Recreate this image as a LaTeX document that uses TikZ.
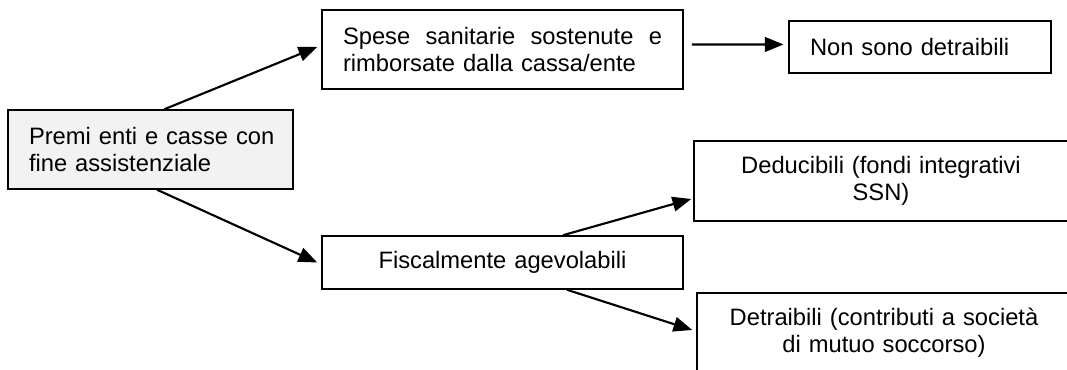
\documentclass[tikz,border=0pt]{standalone}
\usepackage{fontspec}
\setmainfont{Liberation Sans}
\usepackage{tikz}
\usetikzlibrary{positioning, shapes, arrows.meta, calc}

\tikzset{
  box/.style={rectangle, draw, line width=1.2pt, inner xsep=15.75pt, inner ysep=0pt,
              font=\fontsize{17.8pt}{20.5pt}\selectfont},
  arr/.style={-{Triangle[length=14pt,width=11pt]}, line width=1.6pt}
}

\begin{document}
\begin{tikzpicture}[x=0.75pt, y=-0.75pt]
                  \useasboundingbox (0,0) rectangle (1067,370);

                  % Nodes
                  \node[box, fill=black!5, minimum width=213.75pt, minimum height=59.25pt,
                        text width=182.25pt, align=left] (premi) at (150.5,149.5)
                        {\mbox{Premi enti e casse con}\\fine assistenziale};
                  \node[box, minimum width=270.75pt, minimum height=59.25pt,
                        text width=239.25pt, align=left] (spese) at (502.5,49.5)
                        {\hbox to \hsize{Spese\hfil sanitarie\hfil sostenute\hfil e}\\rimborsate dalla cassa/ente};
                  \node[box, minimum width=196.5pt, minimum height=39pt,
                        text width=165pt, align=left] (nonsono) at (920,47)
                        {Non sono detraibili};
                  \node[box, minimum width=270.75pt, minimum height=39.75pt,
                        text width=239.25pt, align=center] (fisc) at (502.5,262.5)
                        {Fiscalmente agevolabili};
                  \node[box, minimum width=280.5pt, minimum height=60pt,
                        text width=249pt, align=center] (deduc) at (881,181)
                        {Deducibili (fondi integrativi\\SSN)};
                  \node[box, minimum width=280.5pt, minimum height=60pt,
                        text width=249pt, align=center] (detra) at (884,333)
                        {Detraibili (contributi a società\\di mutuo soccorso)};

                  % Arrows
                  \draw[arr] ([xshift=10.5pt]premi.north) -- ([xshift=-3pt,yshift=1.9pt]spese.west);
                  \draw[arr] ([xshift=5pt]premi.south) -- ([xshift=-3pt]fisc.west);
                  \draw[arr] ([xshift=6pt,yshift=3.75pt]spese.east) -- ([xshift=-3.5pt,yshift=1.9pt]nonsono.west);
                  \draw[arr] ([xshift=45.4pt]fisc.north) -- ([xshift=-1.5pt,yshift=-13.5pt]deduc.west);
                  \draw[arr] ([xshift=48.4pt]fisc.south) -- ([xshift=-3pt,yshift=2.25pt]detra.west);
              \end{tikzpicture}
\end{document}
